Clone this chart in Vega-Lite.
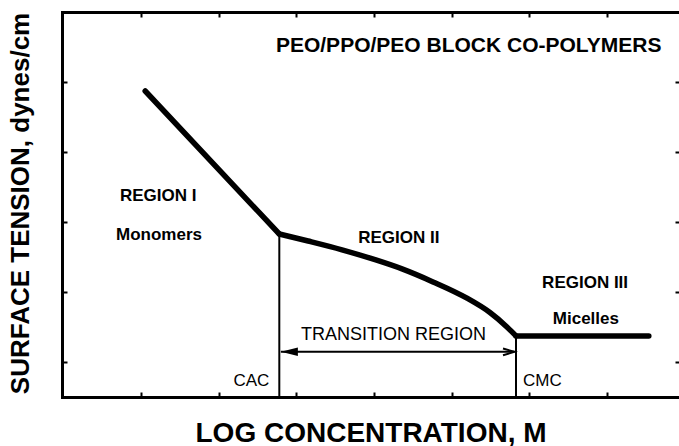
{
  "$schema": "https://vega.github.io/schema/vega-lite/v6.json",
  "width": 617,
  "height": 385,
  "autosize": {"type": "none"},
  "padding": {"left": 62, "top": 12, "right": 0, "bottom": 49},
  "background": "white",
  "config": {"view": {"stroke": null}, "font": "Liberation Sans"},
  "datasets": {
    "curve": [
      {"seg": "I", "x": 1.052, "y": 8.743},
      {"seg": "I", "x": 2.78, "y": 4.657},
      {"seg": "II", "x": 2.78, "y": 4.657},
      {"seg": "II", "x": 3.151, "y": 4.457},
      {"seg": "II", "x": 3.588, "y": 4.206},
      {"seg": "II", "x": 4.013, "y": 3.923},
      {"seg": "II", "x": 4.361, "y": 3.66},
      {"seg": "II", "x": 4.76, "y": 3.289},
      {"seg": "II", "x": 5.198, "y": 2.823},
      {"seg": "II", "x": 5.494, "y": 2.414},
      {"seg": "II", "x": 5.713, "y": 2.003},
      {"seg": "II", "x": 5.83, "y": 1.746},
      {"seg": "III", "x": 5.83, "y": 1.746},
      {"seg": "III", "x": 7.541, "y": 1.746}
    ],
    "verticals": [
      {"name": "CAC", "x": 2.78, "y": 0, "y2": 4.657},
      {"name": "CMC", "x": 5.83, "y": 0, "y2": 1.746}
    ],
    "arrow": [{"x": 2.8, "x2": 5.81, "y": 1.29}],
    "headLeft": [{"x": 2.8, "y": 1.29}],
    "headRight": [{"x": 5.81, "y": 1.29}],
    "boldLabels": [
      {"text": "REGION I", "x": 1.22, "y": 5.74},
      {"text": "Monomers", "x": 1.23, "y": 4.63},
      {"text": "REGION II", "x": 4.32, "y": 4.53},
      {"text": "REGION III", "x": 6.72, "y": 3.26},
      {"text": "Micelles", "x": 6.73, "y": 2.23}
    ],
    "transitionLabel": [
      {"text": "TRANSITION REGION", "x": 4.25, "y": 1.76}
    ],
    "concLabels": [
      {"text": "CAC", "x": 2.42, "y": 0.46},
      {"text": "CMC", "x": 6.17, "y": 0.46}
    ],
    "heading": [{"text": "PEO/PPO/PEO BLOCK CO-POLYMERS", "x": 5.22, "y": 10.03}]
  },
  "resolve": {"axis": {"x": "independent", "y": "independent"}},
  "layer": [
    {
      "data": {"name": "curve"},
      "mark": {"type": "line", "color": "black", "strokeWidth": 5.5, "interpolate": "monotone", "strokeCap": "round", "strokeJoin": "round"},
      "encoding": {
        "x": {"field": "x", "type": "quantitative", "scale": {"domain": [-0.02, 7.93], "nice": false, "zero": false},
          "axis": {"orient": "bottom", "values": [1, 2, 3, 4, 5, 6, 7], "labels": false, "grid": false,
            "domain": true, "domainColor": "black", "domainWidth": 3, "domainCap": "square",
            "ticks": true, "tickSize": -5, "tickWidth": 2, "tickColor": "black",
            "title": "LOG CONCENTRATION, M", "titleFont": "Liberation Sans", "titleFontSize": 28, "titleFontWeight": "bold",
            "titleColor": "black", "titleY": 44, "titleBaseline": "alphabetic", "titleAnchor": "middle"}},
        "y": {"field": "y", "type": "quantitative", "scale": {"domain": [0, 11], "nice": false, "zero": false},
          "axis": {"orient": "left", "values": [1, 3, 5, 7, 9], "labels": false, "grid": false,
            "domain": true, "domainColor": "black", "domainWidth": 3, "domainCap": "square",
            "ticks": true, "tickSize": -5, "tickWidth": 2, "tickColor": "black",
            "title": "SURFACE TENSION, dynes/cm", "titleFont": "Liberation Sans", "titleFontSize": 26, "titleFontWeight": "bold",
            "titleColor": "black", "titleAngle": -90, "titleX": -42, "titleY": 191, "titleAlign": "center", "titleBaseline": "middle"}},
        "detail": {"field": "seg", "type": "nominal"}
      }
    },
    {
      "data": {"name": "verticals"},
      "mark": {"type": "rule", "color": "black", "strokeWidth": 2},
      "encoding": {
        "x": {"field": "x", "type": "quantitative", "scale": {"domain": [-0.02, 7.93], "nice": false, "zero": false},
          "axis": {"orient": "top", "values": [1, 2, 3, 4, 5, 6, 7], "labels": false, "grid": false,
            "domain": true, "domainColor": "black", "domainWidth": 3, "domainCap": "square",
            "ticks": true, "tickSize": -5, "tickWidth": 2, "tickColor": "black", "title": null}},
        "y": {"field": "y", "type": "quantitative", "scale": {"domain": [0, 11], "nice": false, "zero": false},
          "axis": {"orient": "right", "values": [1, 3, 5, 7, 9], "labels": false, "grid": false,
            "domain": false, "ticks": true, "tickSize": -4, "tickWidth": 2, "tickColor": "black", "title": null}},
        "y2": {"field": "y2"}
      }
    },
    {
      "data": {"name": "arrow"},
      "mark": {"type": "rule", "color": "black", "strokeWidth": 2},
      "encoding": {
        "x": {"field": "x", "type": "quantitative", "scale": {"domain": [-0.02, 7.93], "nice": false, "zero": false}, "axis": null},
        "x2": {"field": "x2"},
        "y": {"field": "y", "type": "quantitative", "scale": {"domain": [0, 11], "nice": false, "zero": false}, "axis": null}
      }
    },
    {
      "data": {"name": "headLeft"},
      "mark": {"type": "point", "shape": "M0,0L2,-0.5L2,0.5Z", "filled": true, "color": "black", "opacity": 1, "size": 289},
      "encoding": {
        "x": {"field": "x", "type": "quantitative", "scale": {"domain": [-0.02, 7.93], "nice": false, "zero": false}, "axis": null},
        "y": {"field": "y", "type": "quantitative", "scale": {"domain": [0, 11], "nice": false, "zero": false}, "axis": null}
      }
    },
    {
      "data": {"name": "headRight"},
      "mark": {"type": "point", "shape": "M-2.7,-0.8L0,0L-2.7,0.8", "filled": false, "stroke": "black", "strokeWidth": 2, "opacity": 1, "size": 72},
      "encoding": {
        "x": {"field": "x", "type": "quantitative", "scale": {"domain": [-0.02, 7.93], "nice": false, "zero": false}, "axis": null},
        "y": {"field": "y", "type": "quantitative", "scale": {"domain": [0, 11], "nice": false, "zero": false}, "axis": null}
      }
    },
    {
      "data": {"name": "boldLabels"},
      "mark": {"type": "text", "font": "Liberation Sans", "fontWeight": "bold", "fontSize": 17, "color": "black", "align": "center", "baseline": "middle"},
      "encoding": {
        "x": {"field": "x", "type": "quantitative", "scale": {"domain": [-0.02, 7.93], "nice": false, "zero": false}, "axis": null},
        "y": {"field": "y", "type": "quantitative", "scale": {"domain": [0, 11], "nice": false, "zero": false}, "axis": null},
        "text": {"field": "text"}
      }
    },
    {
      "data": {"name": "transitionLabel"},
      "mark": {"type": "text", "font": "Liberation Sans", "fontWeight": 500, "fontSize": 18, "color": "black", "align": "center", "baseline": "middle"},
      "encoding": {
        "x": {"field": "x", "type": "quantitative", "scale": {"domain": [-0.02, 7.93], "nice": false, "zero": false}, "axis": null},
        "y": {"field": "y", "type": "quantitative", "scale": {"domain": [0, 11], "nice": false, "zero": false}, "axis": null},
        "text": {"field": "text"}
      }
    },
    {
      "data": {"name": "concLabels"},
      "mark": {"type": "text", "font": "Liberation Sans", "fontWeight": 500, "fontSize": 17, "color": "black", "align": "center", "baseline": "middle"},
      "encoding": {
        "x": {"field": "x", "type": "quantitative", "scale": {"domain": [-0.02, 7.93], "nice": false, "zero": false}, "axis": null},
        "y": {"field": "y", "type": "quantitative", "scale": {"domain": [0, 11], "nice": false, "zero": false}, "axis": null},
        "text": {"field": "text"}
      }
    },
    {
      "data": {"name": "heading"},
      "mark": {"type": "text", "font": "Liberation Sans", "fontWeight": "bold", "fontSize": 21, "color": "black", "align": "center", "baseline": "middle"},
      "encoding": {
        "x": {"field": "x", "type": "quantitative", "scale": {"domain": [-0.02, 7.93], "nice": false, "zero": false}, "axis": null},
        "y": {"field": "y", "type": "quantitative", "scale": {"domain": [0, 11], "nice": false, "zero": false}, "axis": null},
        "text": {"field": "text"}
      }
    }
  ]
}
